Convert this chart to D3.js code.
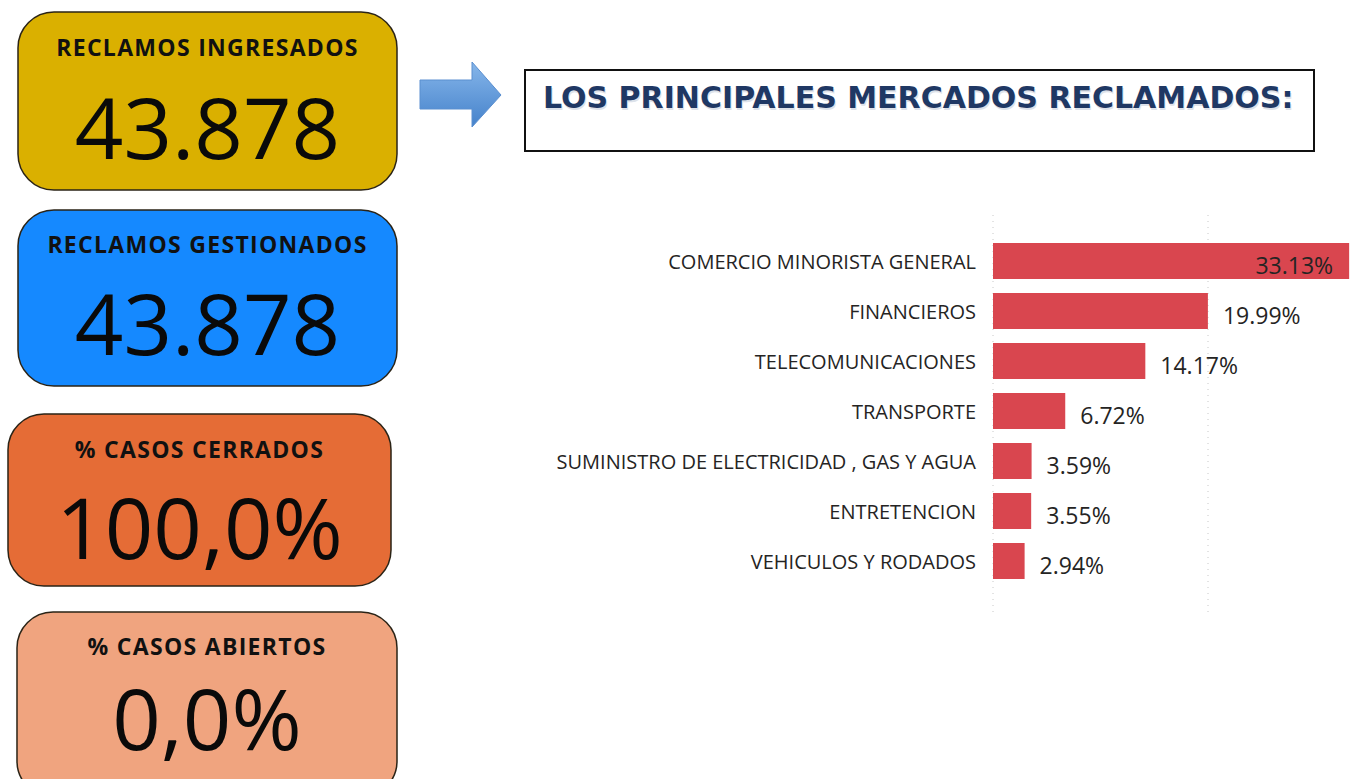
<!DOCTYPE html>
<html>
<head>
<meta charset="utf-8">
<script src="https://cdn.jsdelivr.net/npm/d3@7.9.0/dist/d3.min.js"></script>
<style>
  html, body { margin: 0; padding: 0; background: #fff; }
  svg { display: block; }
</style>
</head>
<body>
<svg id="chart" width="1353" height="779"></svg>
<script>
/* ──── data ──── */
const cardTitles = ['RECLAMOS INGRESADOS', 'RECLAMOS GESTIONADOS', '% CASOS CERRADOS', '% CASOS ABIERTOS'];
const cardValues = ['43.878', '43.878', '100,0%', '0,0%'];

const headline   = 'LOS PRINCIPALES MERCADOS RECLAMADOS:';

const categories = [
  'COMERCIO MINORISTA GENERAL',
  'FINANCIEROS',
  'TELECOMUNICACIONES',
  'TRANSPORTE',
  'SUMINISTRO DE ELECTRICIDAD , GAS Y AGUA',
  'ENTRETENCION',
  'VEHICULOS Y RODADOS'
];
const shares     = [33.13, 19.99, 14.17, 6.72, 3.59, 3.55, 2.94];
const gridTicks  = [0, 20];

/* ──── layout ──── */
const svg = d3.select('#chart');

const cardBoxes = [
  { x: 18, y: 12,  w: 379, h: 178, fill: '#dab000', ty: 56,  vy: 159 },
  { x: 18, y: 210, w: 379, h: 176, fill: '#1589ff', ty: 253, vy: 355 },
  { x: 8,  y: 414, w: 383, h: 172, fill: '#e56c36', ty: 458, vy: 559 },
  { x: 17, y: 612, w: 380, h: 185, fill: '#f0a47f', ty: 655, vy: 750 }
];

/* ──── KPI cards ──── */
const cards = svg.selectAll('g.card')
  .data(cardTitles.map((t, i) => ({ title: t, value: cardValues[i], box: cardBoxes[i] })))
  .join('g')
  .attr('class', 'card');

cards.append('rect')
  .attr('x', d => d.box.x)
  .attr('y', d => d.box.y)
  .attr('width', d => d.box.w)
  .attr('height', d => d.box.h)
  .attr('rx', 36)
  .attr('fill', d => d.box.fill)
  .attr('stroke', '#2a2316')
  .attr('stroke-width', 1.5);

cards.append('text')
  .attr('x', d => d.box.x + d.box.w / 2)
  .attr('y', d => d.box.ty)
  .attr('text-anchor', 'middle')
  .attr('font-family', '"Open Sans", sans-serif')
  .attr('font-weight', 700)
  .attr('font-size', 23)
  .attr('letter-spacing', 1.3)
  .attr('fill', '#111')
  .text(d => d.title);

cards.append('text')
  .attr('x', d => d.box.x + d.box.w / 2)
  .attr('y', d => d.box.vy)
  .attr('text-anchor', 'middle')
  .attr('font-family', '"Open Sans", sans-serif')
  .attr('font-size', 85)
  .attr('fill', '#0a0a0a')
  .text(d => d.value);

/* ──── arrow ──── */
const defs = svg.append('defs');
const grad = defs.append('linearGradient')
  .attr('id', 'arrowGrad')
  .attr('x1', 0).attr('y1', 0).attr('x2', 0).attr('y2', 1);
grad.append('stop').attr('offset', '0%').attr('stop-color', '#86b6ea');
grad.append('stop').attr('offset', '100%').attr('stop-color', '#4582cb');

const arrow = d3.path();
arrow.moveTo(420, 80);
arrow.lineTo(472, 80);
arrow.lineTo(472, 62);
arrow.lineTo(501, 95);
arrow.lineTo(472, 127);
arrow.lineTo(472, 109);
arrow.lineTo(420, 109);
arrow.closePath();

svg.append('path')
  .attr('d', arrow.toString())
  .attr('fill', 'url(#arrowGrad)')
  .attr('stroke', '#5a8fd0')
  .attr('stroke-width', 1);

/* ──── headline box ──── */
svg.append('rect')
  .attr('x', 525).attr('y', 70)
  .attr('width', 789).attr('height', 81)
  .attr('fill', '#fff')
  .attr('stroke', '#111')
  .attr('stroke-width', 2);

// faint shadow under the headline, as in the original slide
svg.append('text')
  .attr('x', 544).attr('y', 109.5)
  .attr('font-family', '"DejaVu Sans", Verdana, sans-serif')
  .attr('font-weight', 700)
  .attr('font-size', 30)
  .attr('fill', '#dde2ea')
  .text(headline);

svg.append('text')
  .attr('x', 543).attr('y', 108)
  .attr('font-family', '"DejaVu Sans", Verdana, sans-serif')
  .attr('font-weight', 700)
  .attr('font-size', 30)
  .attr('fill', '#1f3864')
  .text(headline);

/* ──── bar chart ──── */
const x0 = 993;
const xScale = d3.scaleLinear()
  .domain([0, 20])
  .range([x0, 1208]);

const yScale = d3.scaleBand()
  .domain(categories)
  .range([236, 586])
  .paddingInner(0.28)
  .paddingOuter(0.14);

const chart = svg.append('g').attr('class', 'bars');

chart.selectAll('line.grid')
  .data(gridTicks)
  .join('line')
  .attr('class', 'grid')
  .attr('x1', d => xScale(d))
  .attr('x2', d => xScale(d))
  .attr('y1', 215)
  .attr('y2', 613)
  .attr('stroke', '#c8c8c8')
  .attr('stroke-width', 1)
  .attr('stroke-dasharray', '1,5');

chart.selectAll('rect.bar')
  .data(shares)
  .join('rect')
  .attr('class', 'bar')
  .attr('x', x0)
  .attr('y', (d, i) => yScale(categories[i]))
  .attr('width', d => xScale(d) - x0)
  .attr('height', yScale.bandwidth())
  .attr('fill', '#d9464f');

/* category labels */
chart.selectAll('text.cat')
  .data(categories)
  .join('text')
  .attr('class', 'cat')
  .attr('x', 976)
  .attr('y', d => yScale(d) + yScale.bandwidth() / 2 + 1)
  .attr('dy', '0.35em')
  .attr('text-anchor', 'end')
  .attr('font-family', '"Open Sans", sans-serif')
  .attr('font-size', 20)
  .attr('fill', '#252423')
  .text(d => d);

/* value labels: inside the longest bar, outside the rest */
const maxShare = d3.max(shares);
chart.selectAll('text.val')
  .data(shares)
  .join('text')
  .attr('class', 'val')
  .attr('x', d => d === maxShare ? xScale(d) - 16 : xScale(d) + 15)
  .attr('y', (d, i) => yScale(categories[i]) + yScale.bandwidth() / 2 + 5)
  .attr('dy', '0.35em')
  .attr('text-anchor', d => d === maxShare ? 'end' : 'start')
  .attr('font-family', '"Open Sans", sans-serif')
  .attr('font-size', 23)
  .attr('fill', '#252423')
  .text(d => d.toFixed(2) + '%');
</script>
</body>
</html>
